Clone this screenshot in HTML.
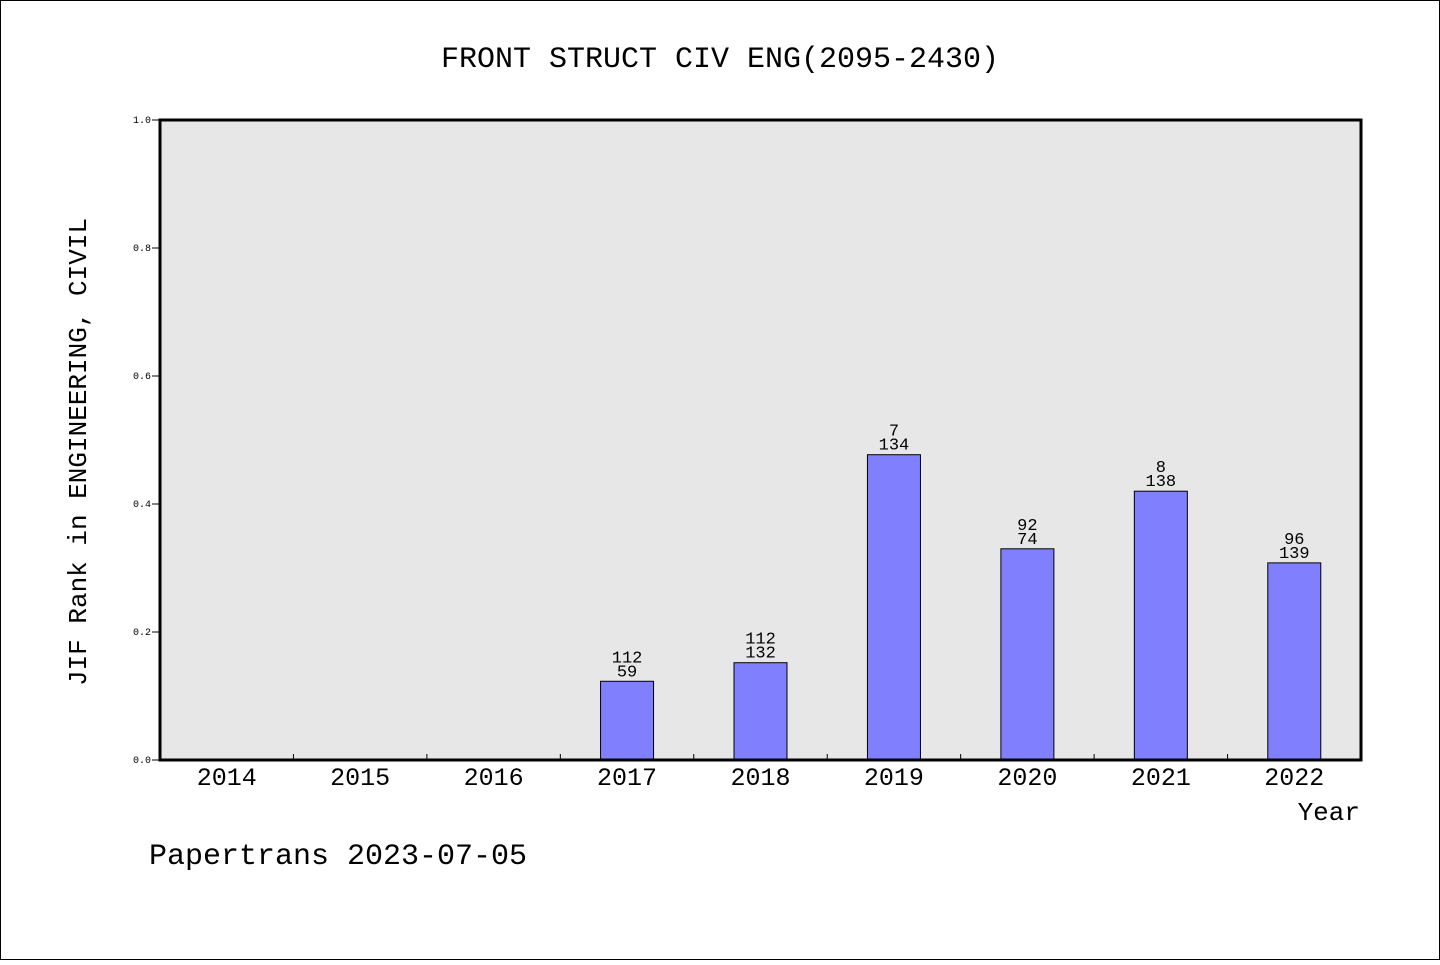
<!DOCTYPE html>
<html><head><meta charset="utf-8"><style>
html,body{margin:0;padding:0;background:#fff;}
svg text{font-family:"WenQuanYi Zen Hei","Liberation Mono",monospace;fill:#000;}
</style></head><body>
<svg width="1440" height="960" xmlns="http://www.w3.org/2000/svg">
<rect x="0.5" y="0.5" width="1439" height="959" fill="#fff" stroke="#000"/>
<text x="720" y="67" font-size="30" text-anchor="middle">FRONT STRUCT CIV ENG(2095-2430)</text>
<rect x="160" y="120" width="1201" height="640" fill="#e7e7e7"/>
<g id="yticks"></g>
<g id="xticks"></g>
<g id="bars"></g>
<rect x="160" y="120" width="1201" height="640" fill="none" stroke="#000" stroke-width="3"/>
<text transform="translate(86,452) rotate(-90)" font-size="26" text-anchor="middle">JIF Rank in ENGINEERING, CIVIL</text>
<text x="1360" y="820" font-size="26" text-anchor="end">Year</text>
<text x="149" y="864" font-size="30">Papertrans 2023-07-05</text>
</svg>
<script>
const years=["2014","2015","2016","2017","2018","2019","2020","2021","2022"];
const values=[null,null,null,0.123,0.152,0.477,0.330,0.420,0.308];
const topLabels=["","","","112","112","7","92","8","96"];
const bottomLabels=["","","","59","132","134","74","138","139"];
const yTicks=["0.0","0.2","0.4","0.6","0.8","1.0"];
const NS="http://www.w3.org/2000/svg";
const X0=160,X1=1361,Y0=760,Y1=120;
const bw=(X1-X0)/years.length;
function xs(i){return X0+bw*(i+0.5);}
function ys(v){return Y0-(Y0-Y1)*v;}
function mk(t,a){const e=document.createElementNS(NS,t);for(const k in a)e.setAttribute(k,a[k]);return e;}
const yg=document.getElementById('yticks');
yTicks.forEach(t=>{const y=ys(parseFloat(t));
const l=mk('line',{x1:152,x2:160,y1:y,y2:y,stroke:'#000'});


yg.appendChild(l);
const tx=mk('text',{x:151,y:y+3,'font-size':10,'text-anchor':'end'});tx.textContent=t;


yg.appendChild(tx);});
const xg=document.getElementById('xticks');
years.forEach((yr,i)=>{
if(i>0){const x=X0+bw*i;const l=mk('line',{x1:x,x2:x,y1:754,y2:760,stroke:'#000'});


xg.appendChild(l);}
const t=mk('text',{x:xs(i),y:785,'font-size':25,'text-anchor':'middle'});t.textContent=yr;


xg.appendChild(t);});
const bg=document.getElementById('bars');
values.forEach((v,i)=>{if(v==null)return;
const y=ys(v);const r=mk('rect',{x:xs(i)-26.5,y:y,width:53,height:Y0-y,fill:'#8080ff',stroke:'#000','stroke-width':1});


bg.appendChild(r);
const t1=mk('text',{x:xs(i),y:y-19,'font-size':17,'text-anchor':'middle'});t1.textContent=topLabels[i];


bg.appendChild(t1);
const t2=mk('text',{x:xs(i),y:y-5,'font-size':17,'text-anchor':'middle'});t2.textContent=bottomLabels[i];


bg.appendChild(t2);});
</script>
</body></html>
